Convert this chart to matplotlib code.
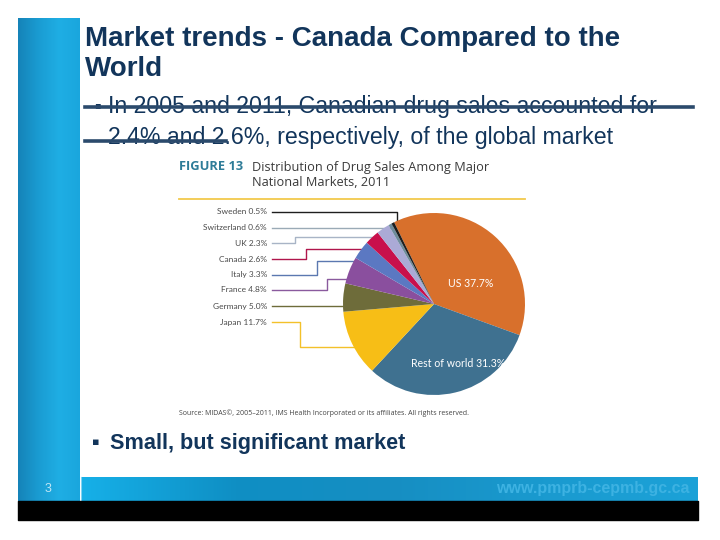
import numpy as np
import matplotlib.pyplot as plt

# Drug sales share by national market, 2011 (%), clockwise from top
markets = ['US', 'Rest of world', 'Japan', 'Germany', 'France', 'Italy',
           'Canada', 'UK', 'Switzerland', 'Sweden']
shares = [37.7, 31.3, 11.7, 5.0, 4.8, 3.3, 2.6, 2.3, 0.6, 0.5]
colors = ['#D8702C', '#3F7190', '#F7BE16', '#6E6C3A', '#8A4F9E', '#5B78C2',
          '#C8104C', '#ABAAD6', '#6F8C9C', '#1E1E1E']
line_colors = ['', '', '#F3C12A', '#6E6C3A', '#8A5A9E', '#5B78B0',
               '#B0164C', '#A8B4C6', '#9AAAB6', '#1E1E1E']

title = 'Market trends - Canada Compared to the\nWorld'
bullet1 = 'In 2005 and 2011, Canadian drug sales accounted for\n2.4% and 2.6%, respectively, of the global market'
bullet2 = 'Small, but significant market'
fig_title_a = 'FIGURE 13'
fig_title_b = 'Distribution of Drug Sales Among Major\nNational Markets, 2011'
source = 'Source: MIDAS©, 2005–2011, IMS Health Incorporated or its affiliates. All rights reserved.'

W, H = 720, 540
fig = plt.figure(figsize=(7.2, 5.4), dpi=100)
ax = fig.add_axes([0, 0, 1, 1])
ax.set_xlim(0, W)
ax.set_ylim(H, 0)
ax.axis('off')

navy = '#12355B'

# slide decoration: left bar, bottom band, black strip
g = np.linspace(0, 1, 256)
left_cmap = plt.matplotlib.colors.LinearSegmentedColormap.from_list(
    'lb', ['#1583B8', '#1A9CD2', '#1FAEE4', '#1AA6DD'])
ax.imshow(g[None, :], extent=(18, 80, 477, 18), cmap=left_cmap, aspect='auto', zorder=0)
ax.imshow(g[None, :], extent=(18, 80, 501, 477), cmap=left_cmap, aspect='auto', zorder=0)
band_cmap = plt.matplotlib.colors.LinearSegmentedColormap.from_list(
    'bb', ['#16B0E8', '#0F8FC4', '#168EC2', '#1A9ACF', '#1CA2D8'])
ax.imshow(g[None, :], extent=(81, 698, 501, 477), cmap=band_cmap, aspect='auto', zorder=0)
ax.plot([81, 81], [477, 501], color='#7FD3F2', lw=0.8, zorder=1)
ax.fill_between([18, 698], 501, 520, color='#000000', zorder=1)

ax.text(48, 489, '3', color='#BFE6F6', fontsize=9, ha='center', va='center',
        family='Liberation Sans')
ax.text(690, 489, 'www.pmprb-cepmb.gc.ca', color='#3DB2E2', fontsize=11.5,
        fontweight='bold', ha='right', va='center', family='Liberation Sans')

# slide title and bullets
ax.text(85, 54, title, color=navy, fontsize=20, fontweight='bold', ha='left',
        va='center', family='Liberation Sans', linespacing=1.2)
ax.text(97, 105, '▪', color=navy, fontsize=7, ha='center', va='center',
        family='DejaVu Sans')
ax.text(108, 122, bullet1, color=navy, fontsize=16.7, ha='left', va='center',
        family='Liberation Sans', linespacing=1.42)
ax.plot([85, 693], [107, 107], color='#2B4A6C', lw=2.6, zorder=5)
ax.plot([85, 226], [141, 141], color='#2B4A6C', lw=2.6, zorder=5)

ax.text(96, 442, '▪', color=navy, fontsize=8, ha='center', va='center',
        family='DejaVu Sans')
ax.text(110, 443, bullet2, color=navy, fontsize=15.6, fontweight='bold',
        ha='left', va='center', family='Liberation Sans')

# figure header
ax.text(179, 166, fig_title_a, color='#2E7C98', fontsize=9.3, fontweight='bold',
        ha='left', va='center', family='Open Sans')
ax.text(252, 175, fig_title_b, color='#3A3A3A', fontsize=9.2, ha='left',
        va='center', family='Open Sans', linespacing=1.1)
ax.plot([179, 525], [199, 199], color='#F2C94C', lw=1.3)
ax.text(179, 413, source, color='#444444', fontsize=5, ha='left', va='center',
        family='Open Sans')

# pie
cx, cy, r = 434, 304, 91
pax = fig.add_axes([(cx - r) / W, (H - cy - r) / H, 2 * r / W, 2 * r / H])
wedges, _ = pax.pie(shares, colors=colors, startangle=116, counterclock=False,
                    wedgeprops=dict(linewidth=0))
pax.set_xlim(-1, 1)
pax.set_ylim(-1, 1)
pax.set_aspect('equal')
pax.axis('off')

for i, (rad, deg) in enumerate([(0.46, 30), (0.71, -68)]):
    a = np.deg2rad(deg)
    pax.text(rad * np.cos(a), rad * np.sin(a), f'{markets[i]} {shares[i]}%',
             color='white', fontsize=7.6, ha='center', va='center', family='Lato')

# left labels with leader lines
label_y = {'Sweden': 212, 'Switzerland': 228, 'UK': 243, 'Canada': 259,
           'Italy': 275, 'France': 290, 'Germany': 306, 'Japan': 322}
# elbow x and final y for each leader
elbow = {'Sweden': (397, None), 'Switzerland': (392, None), 'UK': (295, 237),
         'Canada': (306, 249), 'Italy': (317, 261), 'France': (327, 279),
         'Germany': (None, 306), 'Japan': (300, 347)}
for i, m in enumerate(markets):
    if m not in label_y:
        continue
    y0 = label_y[m]
    ax.text(267, y0, f'{m} {shares[i]}%', color='#4A4A4A', fontsize=6,
            ha='right', va='center', family='Lato')
    ex, ey = elbow[m]
    lc = line_colors[i]
    if ey is None:
        # run across, then drop onto the top of the pie
        ytop = cy - np.sqrt(r ** 2 - (ex - cx) ** 2)
        ax.plot([272, ex, ex], [y0, y0, ytop + 2], color=lc, lw=1)
    elif ex is None:
        xe = cx - np.sqrt(r ** 2 - (ey - cy) ** 2)
        ax.plot([272, xe + 3], [y0, y0], color=lc, lw=1)
    else:
        xe = cx - np.sqrt(r ** 2 - (ey - cy) ** 2)
        ax.plot([272, ex, ex, xe + 3], [y0, y0, ey, ey], color=lc, lw=1)

fig.savefig('out.png', dpi=100)
